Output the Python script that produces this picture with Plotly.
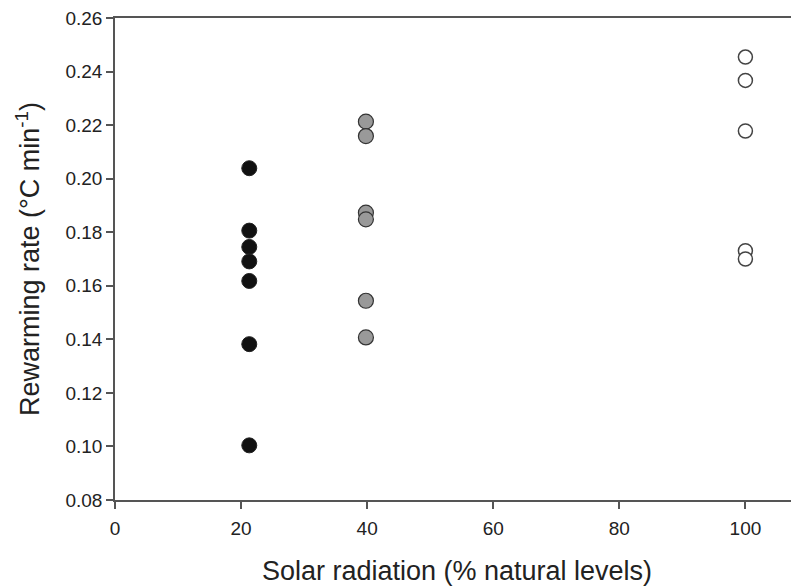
import plotly.graph_objects as go

x_low = [21.3] * 7
y_low = [0.2039, 0.1806, 0.1745, 0.1691, 0.1618, 0.1382, 0.1004]
x_mid = [39.8] * 6
y_mid = [0.2213, 0.2159, 0.1873, 0.1848, 0.1544, 0.1407]
x_high = [100] * 5
y_high = [0.2454, 0.2367, 0.2178, 0.1731, 0.1700]

fig = go.Figure()
fig.add_trace(go.Scatter(x=x_low, y=y_low, mode="markers",
                         marker=dict(size=15, color="#111111", line=dict(color="#222222", width=1))))
fig.add_trace(go.Scatter(x=x_mid, y=y_mid, mode="markers",
                         marker=dict(size=15, color="#999999", line=dict(color="#333333", width=1.2))))
fig.add_trace(go.Scatter(x=x_high, y=y_high, mode="markers",
                         marker=dict(size=14, color="white", line=dict(color="#444444", width=1.5))))

fig.update_layout(
    width=791, height=578,
    margin=dict(l=107, r=0, t=8, b=86),
    paper_bgcolor="white", plot_bgcolor="white",
    showlegend=False,
    font=dict(family="Liberation Sans, Arial", color="#222222"),
    xaxis=dict(range=[0, 108.5], tickvals=[0, 20, 40, 60, 80, 100],
               showline=True, linecolor="#555555", linewidth=1.5, mirror=True,
               ticks="outside", ticklen=7, tickcolor="#555555", tickwidth=1.5,
               showgrid=False, zeroline=False, tickfont=dict(size=19),
               ticklabelstandoff=3, ticklabeloverflow="allow",
               title=dict(text="Solar radiation (% natural levels)", font=dict(size=27), standoff=26)),
    yaxis=dict(range=[0.08, 0.26], tickvals=[0.08, 0.10, 0.12, 0.14, 0.16, 0.18, 0.20, 0.22, 0.24, 0.26],
               tickformat=".2f", ticklabeloverflow="allow",
               showline=True, linecolor="#555555", linewidth=1.5,
               ticks="outside", ticklen=7, tickcolor="#555555", tickwidth=1.5,
               showgrid=False, zeroline=False, tickfont=dict(size=19),
               title=dict(text="Rewarming rate (°C min<sup>-1</sup>)", font=dict(size=27), standoff=18)),
)
fig.write_html("out.html")
